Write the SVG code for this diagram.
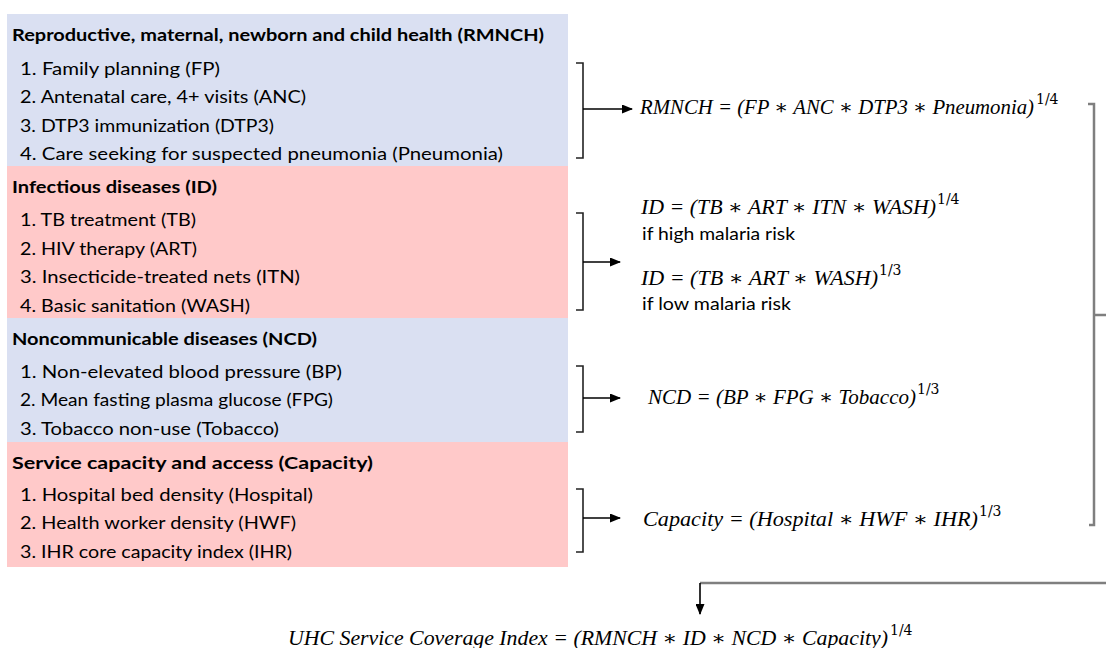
<svg xmlns="http://www.w3.org/2000/svg" width="1106" height="648" viewBox="0 0 1106 648">
<defs>
<marker id="ah" markerWidth="11" markerHeight="9" refX="10" refY="4.5" orient="auto" markerUnits="userSpaceOnUse">
<path d="M0,0 L11,4.5 L0,9 Z" fill="#000"/>
</marker>
<style>
.hd{font-family:"Lato","Liberation Sans",sans-serif;font-weight:bold;font-size:17px;fill:#000}
.it{font-family:"Lato","Liberation Sans",sans-serif;font-size:17px;fill:#000}
.nt{font-family:"Lato","Liberation Sans",sans-serif;font-size:17px;fill:#000}
.fm{font-family:"Liberation Serif","DejaVu Serif",serif;font-style:italic;font-size:20px;fill:#000}
.sp{font-family:"DejaVu Serif","Liberation Serif",serif;font-size:14px;fill:#000}
.blue{fill:#dae0f2}
.pink{fill:#ffc9c9}
.br{fill:none;stroke:#222;stroke-width:1.6}
.ar{fill:none;stroke:#000;stroke-width:1.6;marker-end:url(#ah)}
.gr{fill:none;stroke:#7f7f7f;stroke-width:2.5}
</style>
</defs>
<rect width="1106" height="648" fill="#fff"/>
<g id="rmnch">
<rect class="blue" x="7" y="14" width="561" height="152"/>
<text class="hd" x="12" y="41" textLength="532" lengthAdjust="spacingAndGlyphs">Reproductive, maternal, newborn and child health (RMNCH)</text>
<text class="it" x="20" y="75" textLength="200" lengthAdjust="spacingAndGlyphs">1. Family planning (FP)</text>
<text class="it" x="20" y="103" textLength="286" lengthAdjust="spacingAndGlyphs">2. Antenatal care, 4+ visits (ANC)</text>
<text class="it" x="20" y="132" textLength="254" lengthAdjust="spacingAndGlyphs">3. DTP3 immunization (DTP3)</text>
<text class="it" x="20" y="160" textLength="483" lengthAdjust="spacingAndGlyphs">4. Care seeking for suspected pneumonia (Pneumonia)</text>
</g>
<g id="id">
<rect class="pink" x="7" y="166" width="561" height="152"/>
<text class="hd" x="12" y="193" textLength="205" lengthAdjust="spacingAndGlyphs">Infectious diseases (ID)</text>
<text class="it" x="20" y="226" textLength="176" lengthAdjust="spacingAndGlyphs">1. TB treatment (TB)</text>
<text class="it" x="20" y="255" textLength="177" lengthAdjust="spacingAndGlyphs">2. HIV therapy (ART)</text>
<text class="it" x="20" y="283" textLength="280" lengthAdjust="spacingAndGlyphs">3. Insecticide-treated nets (ITN)</text>
<text class="it" x="20" y="312" textLength="230" lengthAdjust="spacingAndGlyphs">4. Basic sanitation (WASH)</text>
</g>
<g id="ncd">
<rect class="blue" x="7" y="318" width="561" height="124"/>
<text class="hd" x="12" y="345" textLength="305" lengthAdjust="spacingAndGlyphs">Noncommunicable diseases (NCD)</text>
<text class="it" x="20" y="378" textLength="322" lengthAdjust="spacingAndGlyphs">1. Non-elevated blood pressure (BP)</text>
<text class="it" x="20" y="406" textLength="313" lengthAdjust="spacingAndGlyphs">2. Mean fasting plasma glucose (FPG)</text>
<text class="it" x="20" y="435" textLength="259" lengthAdjust="spacingAndGlyphs">3. Tobacco non-use (Tobacco)</text>
</g>
<g id="capacity">
<rect class="pink" x="7" y="442" width="561" height="125"/>
<text class="hd" x="12" y="469" textLength="361" lengthAdjust="spacingAndGlyphs">Service capacity and access (Capacity)</text>
<text class="it" x="20" y="501" textLength="293" lengthAdjust="spacingAndGlyphs">1. Hospital bed density (Hospital)</text>
<text class="it" x="20" y="529" textLength="276" lengthAdjust="spacingAndGlyphs">2. Health worker density (HWF)</text>
<text class="it" x="20" y="558" textLength="272" lengthAdjust="spacingAndGlyphs">3. IHR core capacity index (IHR)</text>
</g>
<g id="f-rmnch">
<text class="fm" x="640" y="114" textLength="394" lengthAdjust="spacingAndGlyphs">RMNCH = (FP ∗ ANC ∗ DTP3 ∗ Pneumonia)</text>
<text class="sp" x="1036" y="104">1/4</text>
</g>
<g id="f-id">
<text class="fm" x="641" y="214" textLength="295" lengthAdjust="spacingAndGlyphs">ID = (TB ∗ ART ∗ ITN ∗ WASH)</text>
<text class="sp" x="937" y="204">1/4</text>
<text class="nt" x="642" y="240" textLength="153" lengthAdjust="spacingAndGlyphs">if high malaria risk</text>
<text class="fm" x="641" y="285" textLength="237" lengthAdjust="spacingAndGlyphs">ID = (TB ∗ ART ∗ WASH)</text>
<text class="sp" x="879" y="275">1/3</text>
<text class="nt" x="642" y="310" textLength="149" lengthAdjust="spacingAndGlyphs">if low malaria risk</text>
</g>
<g id="f-ncd">
<text class="fm" x="648" y="404" textLength="268" lengthAdjust="spacingAndGlyphs">NCD = (BP ∗ FPG ∗ Tobacco)</text>
<text class="sp" x="917" y="394">1/3</text>
</g>
<g id="f-capacity">
<text class="fm" x="643" y="526" textLength="335" lengthAdjust="spacingAndGlyphs">Capacity = (Hospital ∗ HWF ∗ IHR)</text>
<text class="sp" x="979" y="516">1/3</text>
</g>
<g id="f-uhc">
<text class="fm" x="288" y="645" textLength="600" lengthAdjust="spacingAndGlyphs">UHC Service Coverage Index = (RMNCH ∗ ID ∗ NCD ∗ Capacity)</text>
<text class="sp" x="890" y="635">1/4</text>
</g>
<g id="connectors">
<path class="br" d="M576,63 H583 V158 H576"/>
<path class="ar" d="M583,109 H632"/>
<path class="br" d="M576,213 H583 V310 H576"/>
<path class="ar" d="M583,262 H620"/>
<path class="br" d="M576,366 H583 V432 H576"/>
<path class="ar" d="M583,398 H620"/>
<path class="br" d="M576,489 H583 V552 H576"/>
<path class="ar" d="M583,518 H620"/>
<path class="gr" d="M1088,104 H1094 V525 H1089"/>
<path class="gr" d="M1094,315 H1106"/>
<path class="gr" d="M1106,583 H700"/>
<path class="ar" d="M700,583 V614"/>
</g>
</svg>
